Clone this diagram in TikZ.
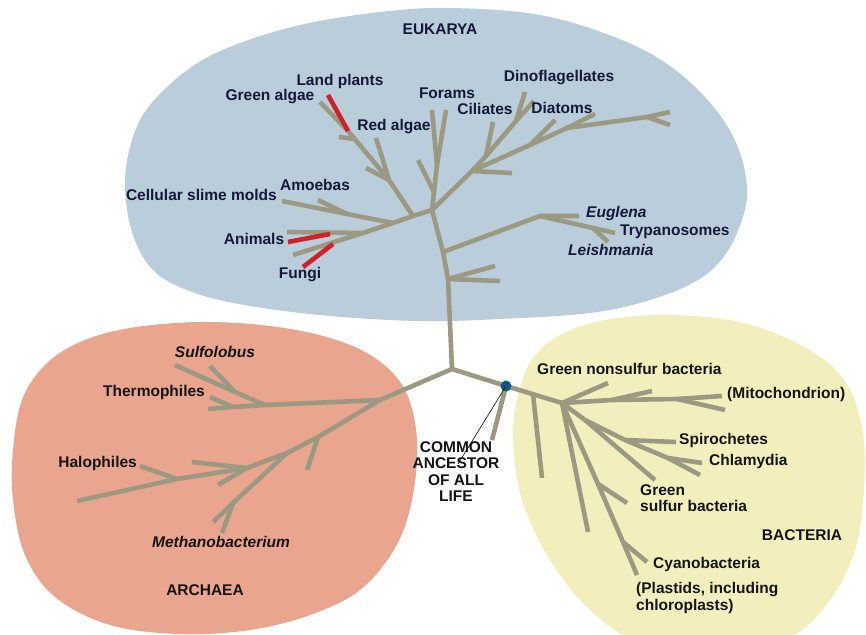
\documentclass[tikz,border=0pt]{standalone}
\usepackage{fontspec}
\setmainfont{Liberation Sans}
\definecolor{eukfill}{HTML}{BACDDA}
\definecolor{arcfill}{HTML}{E9A58D}
\definecolor{bacfill}{HTML}{F3EFBD}
\definecolor{treecol}{HTML}{9C9982}
\definecolor{redcol}{HTML}{D0202A}
\definecolor{dotcol}{HTML}{0D5B7C}
\definecolor{navy}{HTML}{15183A}
\definecolor{ink}{HTML}{141414}
\begin{document}
\begin{tikzpicture}[x=1pt,y=-1pt,
  br/.style={draw=treecol,line width=4.6pt,line join=round},
  rd/.style={draw=redcol,line width=4.6pt},
  lab/.style={font=\fontsize{15.5}{16.5}\selectfont\bfseries,text=navy,inner sep=0pt,anchor=mid},
  itl/.style={lab,font=\fontsize{15.5}{16.5}\selectfont\bfseries\itshape},
  blab/.style={lab,text=ink}]
\useasboundingbox (0,0) rectangle (866,634);
\fill[white] (0,0) rectangle (866,634);
% ---------- domains ----------
\fill[eukfill] plot[smooth cycle,tension=0.6] coordinates {(125,185) (132,140) (150,105) (190,68) (235,45) (300,25) (380,12) (450,8) (540,15) (617,38) (670,66) (712,105) (737,145) (747,187) (742,220) (725,255) (698,280) (650,300) (590,313) (500,319) (420,321) (330,316) (250,306) (195,293) (155,272) (133,235)};
\fill[arcfill] plot[smooth cycle,tension=0.6] coordinates {(13,450) (22,400) (45,365) (80,342) (130,328) (200,322) (270,326) (330,338) (375,358) (405,390) (417,440) (412,500) (395,548) (360,590) (310,615) (250,630) (180,634) (110,625) (55,597) (25,555) (13,500)};
\fill[bacfill] plot[smooth cycle,tension=0.6] coordinates {(513,440) (518,395) (533,358) (562,334) (605,320) (665,315) (735,321) (797,343) (842,377) (862,427) (864,490) (855,550) (830,600) (790,637) (720,650) (640,642) (590,610) (550,560) (522,500)};
% ---------- coordinates ----------
\coordinate (J) at (452,369);
\coordinate (D) at (506,386);
\coordinate (A0) at (380,400);
\coordinate (E0) at (432,210);
\coordinate (T1) at (448,279);
\coordinate (T2) at (443,252);
% eukarya
\coordinate (L1) at (413,216);
\coordinate (L3) at (393,223);
\coordinate (AM) at (347,214);
\coordinate (SM) at (282,201);
\coordinate (AMe) at (318,200);
\coordinate (L4) at (363,233);
\coordinate (FUg) at (293,255);
\coordinate (ANg) at (287,232);
\coordinate (ANr1) at (330,234);
\coordinate (ANr2) at (288,242);
\coordinate (FUr1) at (333,244);
\coordinate (FUr2) at (303,267);
\coordinate (L2) at (389,180);
\coordinate (G1) at (348,131);
\coordinate (GA) at (320,102);
\coordinate (RA) at (376,138);
\coordinate (L2b) at (366,168);
\coordinate (LP) at (328,95);
\coordinate (G1b) at (355,139);
\coordinate (G1c) at (339,137);
\coordinate (FS) at (434,192);
\coordinate (F1) at (437,165);
\coordinate (FO1) at (432,110);
\coordinate (FO2) at (446,110);
\coordinate (FSe) at (418,160);
\coordinate (R1) at (472,171);
\coordinate (DIa) at (530,145);
\coordinate (DIe) at (555,120);
\coordinate (M1) at (567,128);
\coordinate (M1e) at (595,114);
\coordinate (MF) at (647,117);
\coordinate (ME) at (670,112);
\coordinate (MFe) at (670,125);
\coordinate (R1e) at (512,173);
\coordinate (CIs) at (486,156);
\coordinate (CIe) at (493,122);
\coordinate (Dn) at (516,121);
\coordinate (Dn1) at (525,92);
\coordinate (Dn2) at (534,101);
\coordinate (T1a) at (500,281);
\coordinate (T1b) at (495,266);
\coordinate (EU) at (540,216);
\coordinate (EUe) at (579,216);
\coordinate (TRf) at (593,228);
\coordinate (TRe) at (615,233);
\coordinate (LEe) at (608,242);
% archaea
\coordinate (S0) at (265,405);
\coordinate (TF) at (233,407);
\coordinate (THe) at (208,409);
\coordinate (TFe) at (210,397);
\coordinate (SS) at (235,392);
\coordinate (SUe) at (175,365);
\coordinate (SSe) at (210,366);
\coordinate (A1) at (318,437);
\coordinate (A2) at (287,453);
\coordinate (A3) at (247,468);
\coordinate (A4) at (177,479);
\coordinate (HAe) at (77,501);
\coordinate (A1e) at (307,470);
\coordinate (M0) at (233,503);
\coordinate (M0a) at (222,533);
\coordinate (M0b) at (213,522);
\coordinate (A3a) at (192,462);
\coordinate (A3b) at (218,485);
\coordinate (A4e) at (140,466);
% bacteria
\coordinate (DS) at (492,440);
\coordinate (BS) at (533,394);
\coordinate (BSe) at (542,478);
\coordinate (B1) at (562,403);
\coordinate (GNe) at (608,383);
\coordinate (B2) at (612,400);
\coordinate (B2e) at (652,391);
\coordinate (MF2) at (677,399);
\coordinate (MIe) at (722,396);
\coordinate (MF2e) at (725,410);
\coordinate (Bs) at (585,420);
\coordinate (Sp) at (625,440);
\coordinate (Bc) at (668,458);
\coordinate (CH1) at (702,463);
\coordinate (CH2) at (700,475);
\coordinate (SPe) at (676,442);
\coordinate (GSe) at (655,480);
\coordinate (B5e) at (588,532);
\coordinate (CY1) at (598,484);
\coordinate (CY2) at (623,542);
\coordinate (PLe) at (637,575);
\coordinate (CY1e) at (627,503);
\coordinate (CY2e) at (647,562);
% ---------- tree ----------
\draw[br] (A0) -- (J) -- (D) -- (B1);
\draw[br] (J) -- (T1) -- (T2) -- (E0);
% eukarya
\draw[br] (E0) -- (L1) -- (L3);
\draw[br] (L3) -- (AM) -- (SM);
\draw[br] (AM) -- (AMe);
\draw[br] (L3) -- (L4) -- (FUg);
\draw[br] (L4) -- (ANg);
\draw[br] (L1) -- (L2) -- (G1) -- (GA);
\draw[br] (L2) -- (RA);
\draw[br] (L2) -- (L2b);
\draw[br] (G1b) -- (G1c);
\draw[br] (E0) -- (FS) -- (F1) -- (FO1);
\draw[br] (F1) -- (FO2);
\draw[br] (FS) -- (FSe);
\draw[br] (E0) -- (R1) -- (DIa) -- (M1) -- (MF) -- (ME);
\draw[br] (DIa) -- (DIe);
\draw[br] (M1) -- (M1e);
\draw[br] (MF) -- (MFe);
\draw[br] (R1) -- (R1e);
\draw[br] (R1) -- (CIs) -- (Dn) -- (Dn1);
\draw[br] (CIs) -- (CIe);
\draw[br] (Dn) -- (Dn2);
\draw[br] (T1) -- (T1a);
\draw[br] (T1) -- (T1b);
\draw[br] (T2) -- (EU) -- (EUe);
\draw[br] (EU) -- (TRf) -- (TRe);
\draw[br] (TRf) -- (LEe);
\draw[rd] (ANr1) -- (ANr2);
\draw[rd] (FUr1) -- (FUr2);
\draw[rd] (G1) -- (LP);
% archaea
\draw[br] (A0) -- (S0) -- (TF) -- (THe);
\draw[br] (TF) -- (TFe);
\draw[br] (S0) -- (SS) -- (SUe);
\draw[br] (SS) -- (SSe);
\draw[br] (A0) -- (A1) -- (A2) -- (A3) -- (A4) -- (HAe);
\draw[br] (A1) -- (A1e);
\draw[br] (A2) -- (M0) -- (M0b);
\draw[br] (M0) -- (M0a);
\draw[br] (A3) -- (A3a);
\draw[br] (A3) -- (A3b);
\draw[br] (A4) -- (A4e);
% bacteria
\draw[br] (D) -- (DS);
\draw[br] (BS) -- (BSe);
\draw[br] (B1) -- (GNe);
\draw[br] (B1) -- (B2) -- (MF2) -- (MIe);
\draw[br] (B2) -- (B2e);
\draw[br] (MF2) -- (MF2e);
\draw[br] (B1) -- (Bs) -- (Sp) -- (Bc) -- (CH1);
\draw[br] (Bc) -- (CH2);
\draw[br] (Sp) -- (SPe);
\draw[br] (Bs) -- (GSe);
\draw[br] (B1) -- (B5e);
\draw[br] (B1) -- (CY1) -- (CY2) -- (PLe);
\draw[br] (CY1) -- (CY1e);
\draw[br] (CY2) -- (CY2e);
% ---------- common ancestor ----------
\node[circle,fill=dotcol,minimum size=11pt,inner sep=0pt] (dot) at (D) {};
\node[blab,align=center] (common) at (456,499) {COMMON\\ANCESTOR\\OF ALL\\LIFE};
\coordinate (lead) at (458,464);
\draw[black,line width=0.6pt] (dot.center) -- (lead);
% ---------- labels ----------
\node[lab] (leuk) at (440,32) {EUKARYA};
\node[lab] (llp) at (340,83) {Land plants};
\node[lab] (lga) at (270,98) {Green algae};
\node[lab] (lra) at (394,128) {Red algae};
\node[lab] (lfo) at (447,96) {Forams};
\node[lab] (lci) at (485,112) {Ciliates};
\node[lab] (ldi) at (559,79) {Dinoflagellates};
\node[lab] (ldt) at (562,111) {Diatoms};
\node[lab] (lam) at (315,188) {Amoebas};
\node[lab,anchor=mid east] (lcs) at (277,198) {Cellular slime molds};
\node[lab] (lan) at (254,242) {Animals};
\node[lab] (lfu) at (300,276) {Fungi};
\node[itl,anchor=mid west] (leu) at (586,215) {Euglena};
\node[lab,anchor=mid west] (ltr) at (620,233) {Trypanosomes};
\node[itl,anchor=mid west] (lle) at (568,253) {Leishmania};
\node[itl,text=ink] (lsu) at (215,355) {Sulfolobus};
\node[blab,anchor=mid east] (lth) at (205,394) {Thermophiles};
\node[blab,anchor=mid east] (lha) at (137,465) {Halophiles};
\node[itl,text=ink] (lme) at (221,545) {Methanobacterium};
\node[blab] (larc) at (205,593) {ARCHAEA};
\node[blab,anchor=mid west] (lgn) at (537,372) {Green nonsulfur bacteria};
\node[blab,anchor=mid west] (lmi) at (727,396) {(Mitochondrion)};
\node[blab,anchor=mid west] (lsp) at (679,442) {Spirochetes};
\node[blab,anchor=mid west] (lch) at (709,463) {Chlamydia};
\node[blab,anchor=west,align=left] (lgs) at (640,498) {Green\\sulfur bacteria};
\node[blab] (lbac) at (802,538) {BACTERIA};
\node[blab,anchor=mid west] (lcy) at (653,566) {Cyanobacteria};
\node[blab,anchor=west,align=left] (lpl) at (636,598) {(Plastids, including\\chloroplasts)};
\end{tikzpicture}
\end{document}
